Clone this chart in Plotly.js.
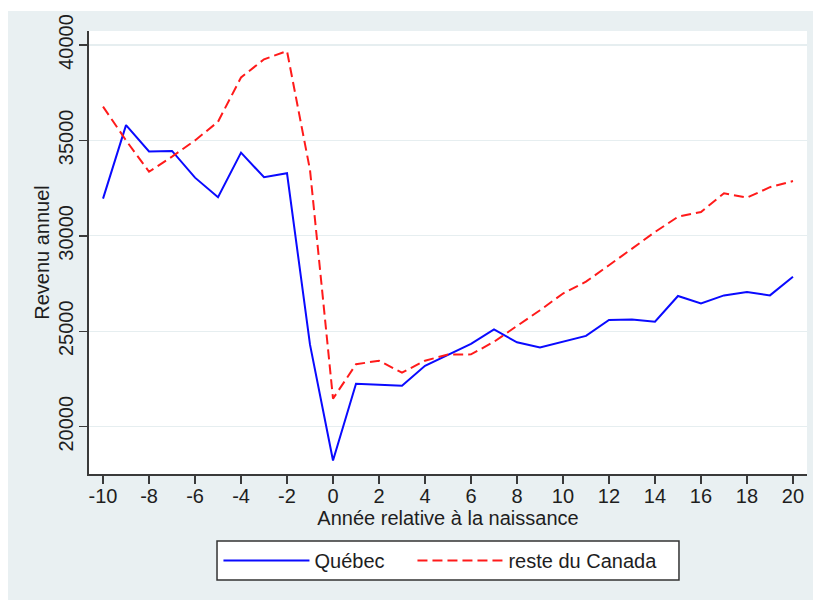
<!DOCTYPE html>
<html>
<head>
<meta charset="utf-8">
<script src="https://cdn.plot.ly/plotly-3.0.1.min.js"></script>
<style>
  html, body { margin: 0; padding: 0; background: #ffffff; width: 813px; height: 600px; overflow: hidden; }
  #chart { position: absolute; left: 8px; top: 11px; width: 805px; height: 589px; }
</style>
</head>
<body>
<div id="chart"></div>
<script>
// ---- data ----
const annee = [-10, -9, -8, -7, -6, -5, -4, -3, -2, -1, 0, 1, 2, 3, 4, 5, 6, 7, 8, 9, 10, 11, 12, 13, 14, 15, 16, 17, 18, 19, 20];
const quebec = [31950, 35800, 34420, 34450, 33050, 32020, 34360, 33070, 33280, 24300, 18230, 22250, 22200, 22150, 23190, 23760, 24340, 25100, 24420, 24150, 24450, 24760, 25590, 25620, 25500, 26850, 26460, 26880, 27060, 26880, 27860];
const resteCanada = [36770, 35000, 33360, 34150, 35000, 35980, 38300, 39250, 39680, 33450, 21470, 23270, 23460, 22830, 23460, 23780, 23790, 24450, 25280, 26100, 26980, 27600, 28460, 29340, 30200, 31000, 31250, 32230, 32000, 32550, 32870];
const seriesNames = ["Québec", "reste du Canada"];
const xTickVals = [-10, -8, -6, -4, -2, 0, 2, 4, 6, 8, 10, 12, 14, 16, 18, 20];
const xTickText = ["-10", "-8", "-6", "-4", "-2", "0", "2", "4", "6", "8", "10", "12", "14", "16", "18", "20"];
const yTickVals = [20000, 25000, 30000, 35000, 40000];
const yTickText = ["20000", "25000", "30000", "35000", "40000"];
const xTitle = "Année relative à la naissance";
const yTitle = "Revenu annuel";

const FONT = "Liberation Sans, Arial, sans-serif";
const AXIS_COLOR = "#3a3a3a";
const TEXT_COLOR = "#1e1e1e";

const traces = [
  {
    x: annee, y: quebec, name: seriesNames[0], type: "scatter", mode: "lines",
    line: { color: "#0a0aff", width: 2 }, legend: "legend"
  },
  {
    x: annee, y: resteCanada, name: seriesNames[1], type: "scatter", mode: "lines",
    line: { color: "#ff1a1a", width: 2, dash: "10px,5px" }, legend: "legend2"
  }
];

const legendBase = {
  orientation: "h",
  xanchor: "left",
  y: -0.151, yanchor: "top",
  bgcolor: "rgba(0,0,0,0)",
  borderwidth: 0,
  font: { family: FONT, size: 20, color: TEXT_COLOR },
  itemwidth: 86,
  tracegroupgap: 0
};

const layout = {
  width: 805, height: 589,
  margin: { l: 81, r: 6, t: 20, b: 126, pad: 0 },
  paper_bgcolor: "#e9f0f2",
  plot_bgcolor: "#ffffff",
  font: { family: FONT, size: 20, color: TEXT_COLOR },
  showlegend: true,
  legend: Object.assign({}, legendBase, { x: 0.1803 }),
  legend2: Object.assign({}, legendBase, { x: 0.4505 }),
  shapes: [
    {
      type: "rect", xref: "paper", yref: "paper",
      x0: 0.1783, x1: 0.8217, y0: -0.2393, y1: -0.1512,
      fillcolor: "#ffffff", line: { color: "#333333", width: 1.5 },
      layer: "below"
    }
  ],
  xaxis: {
    range: [-10.61, 20.61],
    tickvals: xTickVals, ticktext: xTickText,
    ticks: "outside", ticklen: 8, tickwidth: 1.5, tickcolor: AXIS_COLOR,
    ticklabelstandoff: -5,
    showline: true, linecolor: AXIS_COLOR, linewidth: 2,
    showgrid: false, zeroline: false,
    tickfont: { family: FONT, size: 20, color: TEXT_COLOR },
    title: { text: xTitle, font: { family: FONT, size: 20, color: TEXT_COLOR }, standoff: 0 },
    automargin: false, fixedrange: true
  },
  yaxis: {
    range: [17522, 40733],
    tickvals: yTickVals, ticktext: yTickText,
    tickangle: -90,
    ticks: "outside", ticklen: 8, tickwidth: 1.5, tickcolor: AXIS_COLOR,
    ticklabelstandoff: -2,
    showline: true, linecolor: AXIS_COLOR, linewidth: 2,
    showgrid: true, gridcolor: "#e6eef0", gridwidth: 1.2,
    zeroline: false,
    tickfont: { family: FONT, size: 20, color: TEXT_COLOR },
    title: { text: yTitle, font: { family: FONT, size: 20, color: TEXT_COLOR }, standoff: 0 },
    automargin: false, fixedrange: true
  }
};

Plotly.newPlot("chart", traces, layout, { staticPlot: true, displayModeBar: false });
</script>
</body>
</html>
